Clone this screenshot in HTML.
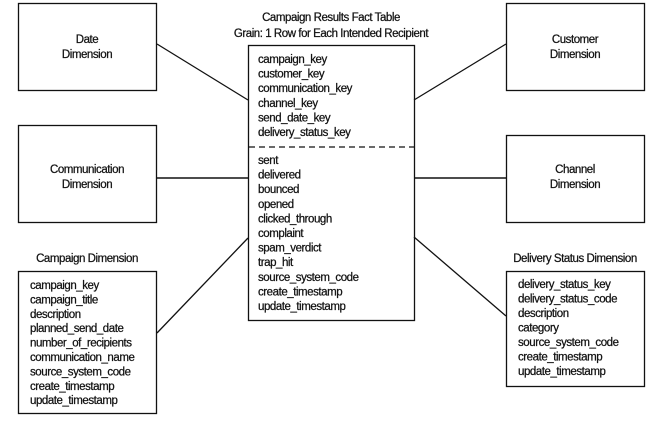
<!DOCTYPE html>
<html><head><style>
html,body{margin:0;padding:0;background:#fff;}
svg text{font-family:"Liberation Sans",sans-serif;font-size:11.5px;letter-spacing:-0.45px;fill:#111;stroke:#111;stroke-width:0.25px;}
</style></head><body>
<svg width="650" height="418" viewBox="0 0 650 418" xmlns="http://www.w3.org/2000/svg">
<g fill="none" stroke="#111" stroke-width="1.3">
<rect x="18.5" y="3.5" width="138" height="87"/>
<rect x="18.5" y="125.5" width="138" height="97"/>
<rect x="506.5" y="3.5" width="138" height="87"/>
<rect x="506.5" y="135.5" width="138" height="87"/>
<rect x="248.5" y="45.5" width="166" height="275"/>
<rect x="18.5" y="271.5" width="138" height="142"/>
<rect x="506.5" y="271.5" width="138" height="115"/>
<line x1="157" y1="44" x2="248" y2="100"/>
<line x1="157" y1="178" x2="248" y2="178" stroke-width="1.6"/>
<line x1="157" y1="333" x2="248" y2="238"/>
<line x1="414" y1="100" x2="506" y2="44"/>
<line x1="414" y1="178" x2="506" y2="178" stroke-width="1.6"/>
<line x1="414" y1="237" x2="506" y2="316"/>
<line x1="249" y1="147" x2="414" y2="147" stroke-dasharray="6,4"/>
</g>
<g text-anchor="middle">
<text x="87" y="43">Date</text><text x="87" y="58">Dimension</text>
<text x="87" y="173">Communication</text><text x="87" y="188">Dimension</text>
<text x="575" y="43">Customer</text><text x="575" y="58">Dimension</text>
<text x="575" y="173">Channel</text><text x="575" y="188">Dimension</text>
<text x="331" y="21">Campaign Results Fact Table</text>
<text x="331" y="37">Grain: 1 Row for Each Intended Recipient</text>
<text x="87" y="262">Campaign Dimension</text>
<text x="575" y="262">Delivery Status Dimension</text>
</g>
<g>
<text x="258" y="63">campaign_key</text>
<text x="258" y="77.6">customer_key</text>
<text x="258" y="92.2">communication_key</text>
<text x="258" y="106.8">channel_key</text>
<text x="258" y="121.4">send_date_key</text>
<text x="258" y="136">delivery_status_key</text>
<text x="258" y="164">sent</text>
<text x="258" y="178.6">delivered</text>
<text x="258" y="193.2">bounced</text>
<text x="258" y="207.8">opened</text>
<text x="258" y="222.4">clicked_through</text>
<text x="258" y="237">complaint</text>
<text x="258" y="251.6">spam_verdict</text>
<text x="258" y="266.2">trap_hit</text>
<text x="258" y="280.8">source_system_code</text>
<text x="258" y="295.4">create_timestamp</text>
<text x="258" y="310">update_timestamp</text>
<text x="30" y="289">campaign_key</text>
<text x="30" y="303.4">campaign_title</text>
<text x="30" y="317.8">description</text>
<text x="30" y="332.2">planned_send_date</text>
<text x="30" y="346.6">number_of_recipients</text>
<text x="30" y="361">communication_name</text>
<text x="30" y="375.4">source_system_code</text>
<text x="30" y="389.8">create_timestamp</text>
<text x="30" y="404.2">update_timestamp</text>
<text x="518" y="288">delivery_status_key</text>
<text x="518" y="302.5">delivery_status_code</text>
<text x="518" y="317">description</text>
<text x="518" y="331.5">category</text>
<text x="518" y="346">source_system_code</text>
<text x="518" y="360.5">create_timestamp</text>
<text x="518" y="375">update_timestamp</text>
</g>
</svg>
</body></html>
